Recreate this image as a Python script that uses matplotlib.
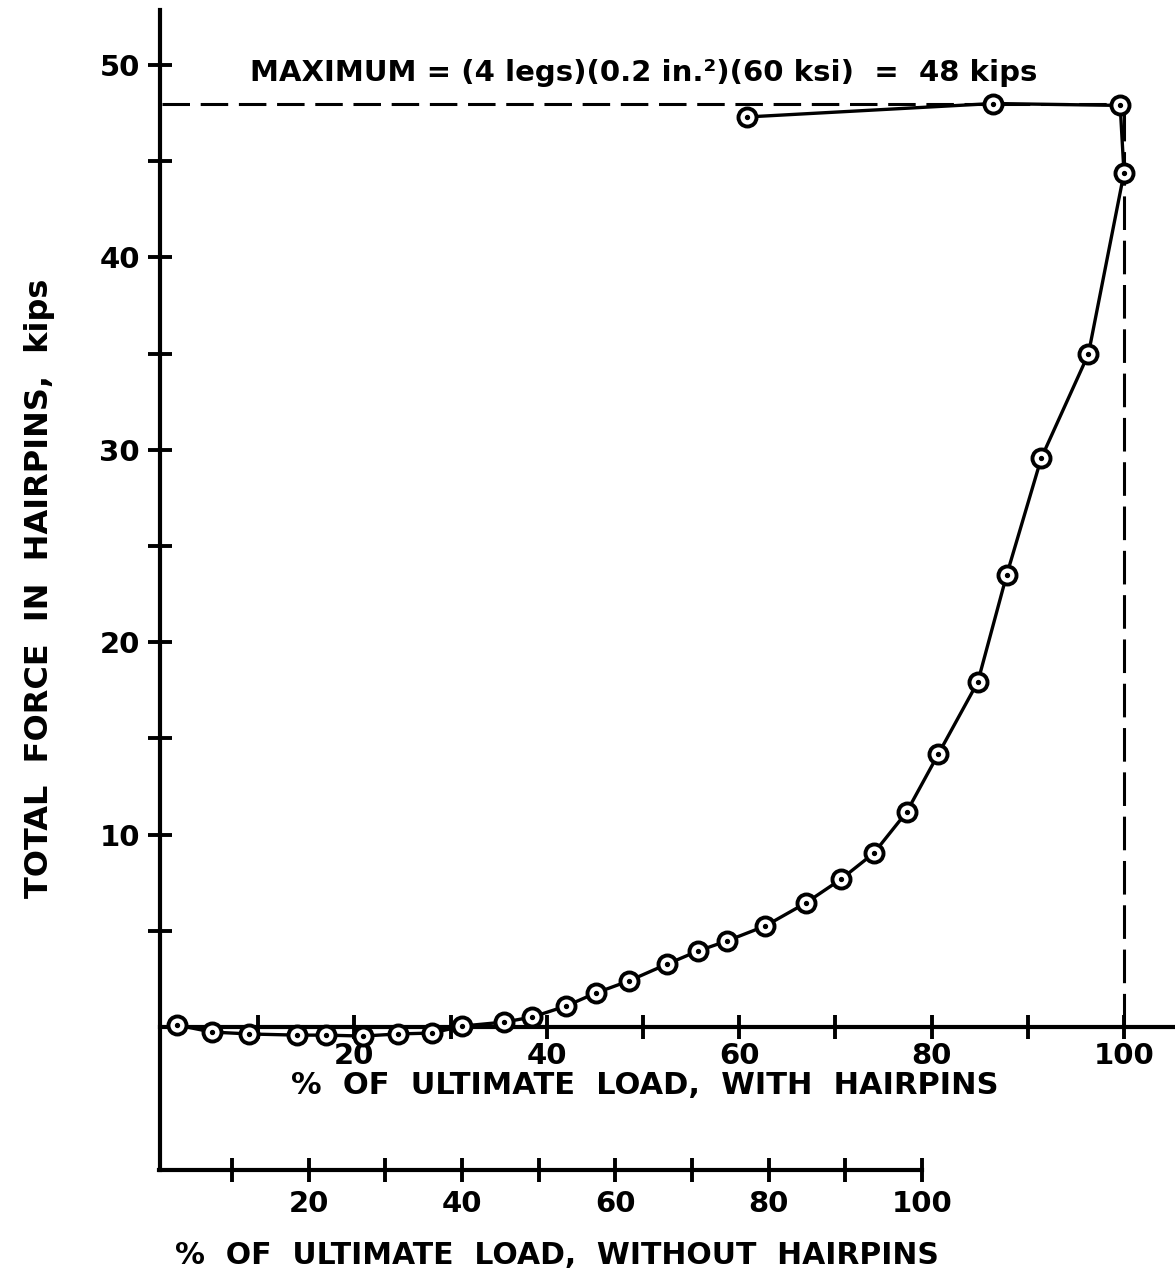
import numpy as np
import matplotlib.pyplot as plt

plt.rcParams['font.family'] = 'DejaVu Sans'
plt.rcParams['font.weight'] = 'bold'

# % of ultimate load (with hairpins) vs total force in hairpins (kips)
load_pct = [1.6, 5.2, 9.1, 14.0, 17.1, 20.9, 24.5, 28.1, 31.2, 35.6, 38.5,
            42.0, 45.1, 48.5, 52.5, 55.7, 58.7, 62.7, 66.9, 70.6, 74.0,
            77.4, 80.7, 84.8, 87.8, 91.4, 96.3, 100.0, 99.6, 86.4, 60.8]
force_kips = [0.1, -0.26, -0.36, -0.42, -0.42, -0.47, -0.36, -0.31, 0.05,
              0.26, 0.52, 1.09, 1.77, 2.39, 3.27, 3.95, 4.47, 5.25, 6.44,
              7.69, 9.04, 11.17, 14.19, 17.93, 23.49, 29.57, 34.98, 44.39,
              47.9, 48.0, 47.3]
max_force = 48
full_load = 100

y_ticks = [5, 10, 15, 20, 25, 30, 35, 40, 45, 50]
y_labels = ['', '10', '', '20', '', '30', '', '40', '', '50']
x_ticks = [10, 20, 30, 40, 50, 60, 70, 80, 90, 100]
x_labels = ['', '20', '', '40', '', '60', '', '80', '', '100']

W, H = 1175, 1278
fig = plt.figure(figsize=(W / 100, H / 100), dpi=100)

ax = fig.add_axes([160 / W, 108 / H, 1015 / W, 1160 / H])
ax.set_xlim(-0.2, 105.3)
ax.set_ylim(-7.43, 52.86)
ax.patch.set_visible(False)
for s in ['top', 'right']:
    ax.spines[s].set_visible(False)
ax.spines['bottom'].set_position(('data', 0))
ax.spines['bottom'].set_linewidth(3.0)
ax.spines['left'].set_linewidth(3.0)

ax.set_yticks(y_ticks)
ax.set_yticklabels(y_labels)
ax.set_xticks(x_ticks)
ax.set_xticklabels(x_labels)
ax.tick_params(axis='both', direction='inout', length=17, width=2.8,
               labelsize=21)
ax.tick_params(axis='y', pad=6)
ax.tick_params(axis='x', pad=2)

# maximum hairpin force and 100 % line
ax.hlines(max_force, 0, full_load, colors='black', linestyles=(0, (9, 3.5)),
          lw=2.2, zorder=2)
ax.vlines(full_load, 0, max_force, colors='black', linestyles=(0, (11, 3.5)),
          lw=2.2, zorder=2)

ax.plot(load_pct, force_kips, '-', color='black', lw=2.4, marker='o', ms=13,
        mfc='white', mec='black', mew=2.8, zorder=3, clip_on=False)
ax.plot(load_pct, force_kips, ls='none', marker='o', ms=2.8, color='black',
        zorder=4, clip_on=False)

ax.text(50.1, 49.6, 'MAXIMUM = (4 legs)(0.2 in.\u00b2)(60 ksi)  =  48 kips',
        ha='center', va='center', fontsize=21, fontweight='bold')

# second scale: % of ultimate load without hairpins
ax2 = fig.add_axes([159 / W, 108 / H, 763 / W, 1 / H])
ax2.set_xlim(0.5, 100)
ax2.patch.set_visible(False)
for s in ['top', 'right', 'left']:
    ax2.spines[s].set_visible(False)
ax2.spines['bottom'].set_linewidth(3.0)
ax2.set_yticks([])
ax2.set_xticks(x_ticks)
ax2.set_xticklabels(x_labels)
ax2.tick_params(axis='x', direction='inout', length=17, width=2.8,
                labelsize=21, pad=6)

fig.text(40 / W, 1 - 588 / H, 'TOTAL  FORCE  IN  HAIRPINS,  kips',
         rotation=90, ha='center', va='center', fontsize=23, fontweight='bold')
fig.text(645 / W, 1 - 1085 / H, '%  OF  ULTIMATE  LOAD,  WITH  HAIRPINS',
         ha='center', va='center', fontsize=22, fontweight='bold')
fig.text(557 / W, 1 - 1255 / H, '%  OF  ULTIMATE  LOAD,  WITHOUT  HAIRPINS',
         ha='center', va='center', fontsize=21.5, fontweight='bold')

fig.savefig('out.png', dpi=100)
